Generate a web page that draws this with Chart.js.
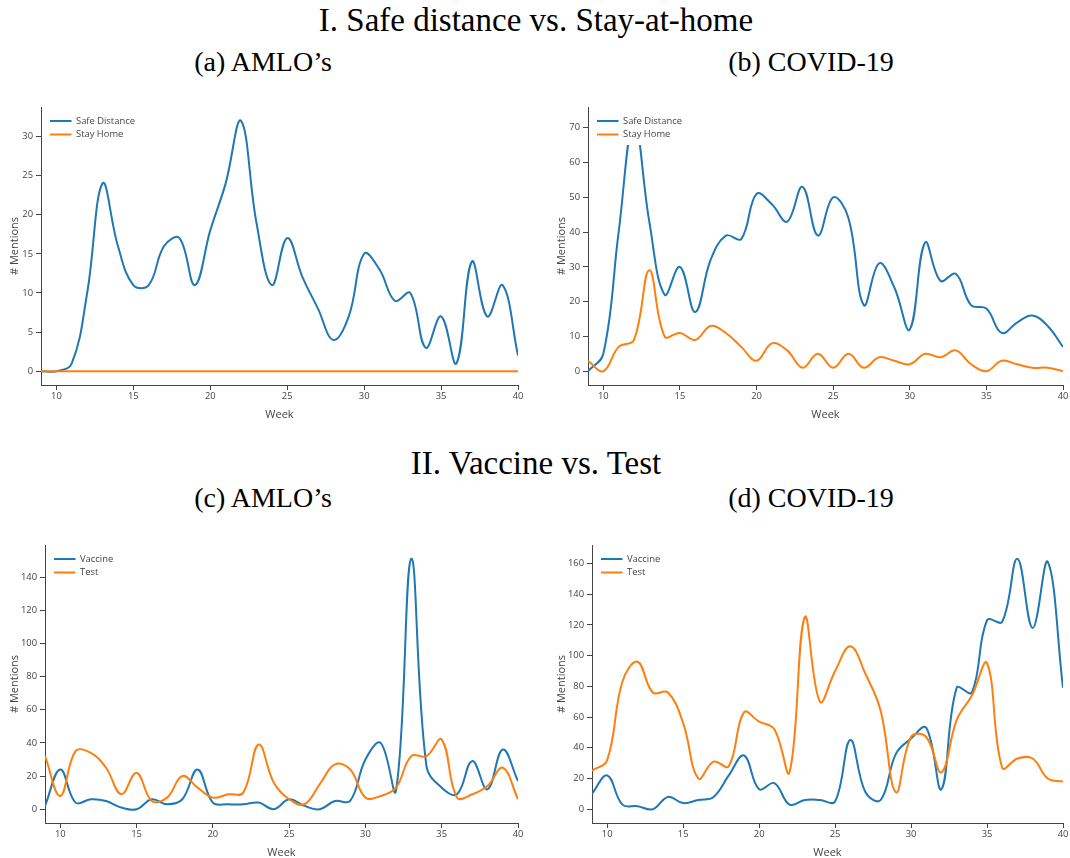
<!DOCTYPE html>
<html><head><meta charset="utf-8">
<script src="https://cdn.jsdelivr.net/npm/chart.js@4.4.1/dist/chart.umd.min.js"></script>
<style>
html,body{margin:0;padding:0;background:#fff;width:1070px;height:858px;overflow:hidden;}
.t{position:absolute;font-family:"Liberation Serif","Times New Roman",serif;color:#000;white-space:nowrap;line-height:1;transform:translateX(-50%);}
canvas{position:absolute;}
</style></head><body>
<div class="t" style="left:536px;top:4px;font-size:33px">I. Safe distance vs. Stay-at-home</div>
<div class="t" style="left:263px;top:48px;font-size:28px">(a) AMLO’s</div>
<div class="t" style="left:811px;top:48px;font-size:28px">(b) COVID-19</div>
<div class="t" style="left:536px;top:447px;font-size:33px">II. Vaccine vs. Test</div>
<div class="t" style="left:263px;top:484px;font-size:28px">(c) AMLO’s</div>
<div class="t" style="left:811px;top:484px;font-size:28px">(d) COVID-19</div>
<canvas id="ca" width="535" height="340" style="left:0;top:90px"></canvas>
<canvas id="cb" width="535" height="340" style="left:535px;top:90px"></canvas>
<canvas id="cc" width="535" height="328" style="left:0;top:530px"></canvas>
<canvas id="cd" width="535" height="328" style="left:535px;top:530px"></canvas>
<script>
const weeks = [9,10,11,12,13,14,15,16,17,18,19,20,21,22,23,24,25,26,27,28,29,30,31,32,33,34,35,36,37,38,39,40];
const xTickValues = [10,15,20,25,30,35,40];

// (a) AMLO's: Safe distance vs Stay-at-home
const amloSafeDistance = [0,0,1,10,24,16,11,11,16,17,11,18,24,32,19,11,17,12,8,4,7,15,13,9,10,3,7,1,14,7,11,2];
const amloStayHome     = [0,0,0,0,0,0,0,0,0,0,0,0,0,0,0,0,0,0,0,0,0,0,0,0,0,0,0,0,0,0,0,0];
// (b) COVID-19: Safe distance vs Stay-at-home
const covidSafeDistance = [0,5,40,72,43,22,30,17,32,39,38,51,48,43,53,39,50,44,19,31,24,12,37,26,28,19,18,11,14,16,13,7];
const covidStayHome     = [3,0,7,9,29,10,11,9,13,11,7,3,8,6,1,5,1,5,1,4,3,2,5,4,6,2,0,3,2,1,1,0];
// (c) AMLO's: Vaccine vs Test
const amloVaccine = [2,24,4,6,5,1,0,6,3,6,24,4,3,3,4,0,6,2,0,5,5,30,40,11,151,26,13,9,29,12,36,17];
const amloTest    = [32,8,35,34,25,9,22,5,7,20,13,7,9,10,39,16,6,3,15,27,24,7,8,13,32,32,42,7,9,14,25,6];
// (d) COVID-19: Vaccine vs Test
const covidVaccine = [10,22,3,2,0,8,4,6,8,22,35,13,17,3,6,6,5,45,11,6,36,46,53,13,79,76,123,122,163,118,161,79];
const covidTest    = [25,32,83,96,76,76,56,20,31,28,63,57,52,24,125,70,90,106,88,64,11,47,47,24,58,74,95,27,33,33,20,18];

const yTicksA = [0,5,10,15,20,25,30];
const yTicksB = [0,10,20,30,40,50,60,70];
const yTicksC = [0,20,40,60,80,100,120,140];
const yTicksD = [0,20,40,60,80,100,120,140,160];

const labelsSafe = ['Safe Distance','Stay Home'];
const labelsVac = ['Vaccine','Test'];

const BLUE = '#1f77b4', ORANGE = '#ff7f0e', AX = '#444';

const insideLegend = {
  id: 'insideLegend',
  afterDatasetsDraw(chart, args, opts) {
    const {ctx, chartArea} = chart;
    const x0 = chartArea.left, y0 = chartArea.top;
    ctx.save();
    ctx.fillStyle = '#fff';
    ctx.fillRect(x0 + 4, y0 + 4, 93, 34);
    chart.data.datasets.forEach((ds, i) => {
      const y = y0 + 14 + i * 13.5;
      ctx.strokeStyle = ds.borderColor;
      ctx.lineWidth = 2;
      ctx.beginPath();
      ctx.moveTo(x0 + 9, y);
      ctx.lineTo(x0 + 30.5, y);
      ctx.stroke();
      ctx.fillStyle = AX;
      ctx.font = '9.4px "Open Sans"';
      ctx.textBaseline = 'middle';
      ctx.textAlign = 'left';
      ctx.fillText(ds.label, x0 + 35, y);
    });
    ctx.restore();
  }
};

function pts(arr) { return weeks.map((w, i) => ({x: w, y: arr[i]})); }

function makeChart(id, s1, s2, labels, yTicks, yMin, yMax, g) {
  return new Chart(document.getElementById(id), {
    type: 'line',
    data: {
      datasets: [
        {label: labels[0], data: pts(s1), borderColor: BLUE, backgroundColor: BLUE, borderWidth: 2, pointRadius: 0, tension: 0.4, order: 1},
        {label: labels[1], data: pts(s2), borderColor: ORANGE, backgroundColor: ORANGE, borderWidth: 2, pointRadius: 0, tension: 0.4, order: 0}
      ]
    },
    options: {
      responsive: false,
      animation: false,
      events: [],
      layout: {padding: {left: g.pl, top: g.pt, right: g.pr, bottom: g.pb}},
      plugins: {legend: {display: false}, tooltip: {enabled: false}},
      scales: {
        x: {
          type: 'linear', min: 9, max: 40, offset: false,
          afterBuildTicks: s => { s.ticks = xTickValues.map(v => ({value: v})); },
          afterFit: s => { s.height = 35; s.paddingLeft = 0; s.paddingRight = 0; },
          ticks: {font: {family: 'Open Sans', size: 9.4}, color: AX, padding: 1, maxRotation: 0, autoSkip: false},
          grid: {display: true, drawOnChartArea: false, drawTicks: true, tickLength: 5, tickColor: AX},
          border: {display: true, color: AX, width: 1},
          title: {display: true, text: 'Week', color: AX, font: {family: 'Open Sans', size: 11, lineHeight: 1}, padding: {top: 0, bottom: 0}}
        },
        y: {
          type: 'linear', min: yMin, max: yMax,
          afterBuildTicks: s => { s.ticks = yTicks.map(v => ({value: v})); },
          afterFit: s => { s.width = g.yw; s.paddingTop = 0; s.paddingBottom = 0; },
          ticks: {font: {family: 'Open Sans', size: 9.4}, color: AX, padding: 3, autoSkip: false},
          grid: {display: true, drawOnChartArea: false, drawTicks: true, tickLength: 5, tickColor: AX},
          border: {display: true, color: AX, width: 1},
          title: {display: true, text: '# Mentions', color: AX, font: {family: 'Open Sans', size: 11, lineHeight: 1}, padding: {top: 4, bottom: 0}}
        }
      }
    },
    plugins: [insideLegend]
  });
}

makeChart('ca', amloSafeDistance, amloStayHome, labelsSafe, yTicksA, -1.76, 33.76, {pl: 5, pt: 17, pr: 17, pb: 10, yw: 36});
makeChart('cb', covidSafeDistance, covidStayHome, labelsSafe, yTicksB, -3.96, 75.96, {pl: 17, pt: 17, pr: 7, pb: 10, yw: 36});
makeChart('cc', amloVaccine, amloTest, labelsVac, yTicksC, -8.3, 159.3, {pl: 5, pt: 15, pr: 17, pb: 0, yw: 40});
makeChart('cd', covidVaccine, covidTest, labelsVac, yTicksD, -8.97, 171.97, {pl: 17, pt: 15, pr: 7, pb: 0, yw: 40});
</script>
</body></html>
